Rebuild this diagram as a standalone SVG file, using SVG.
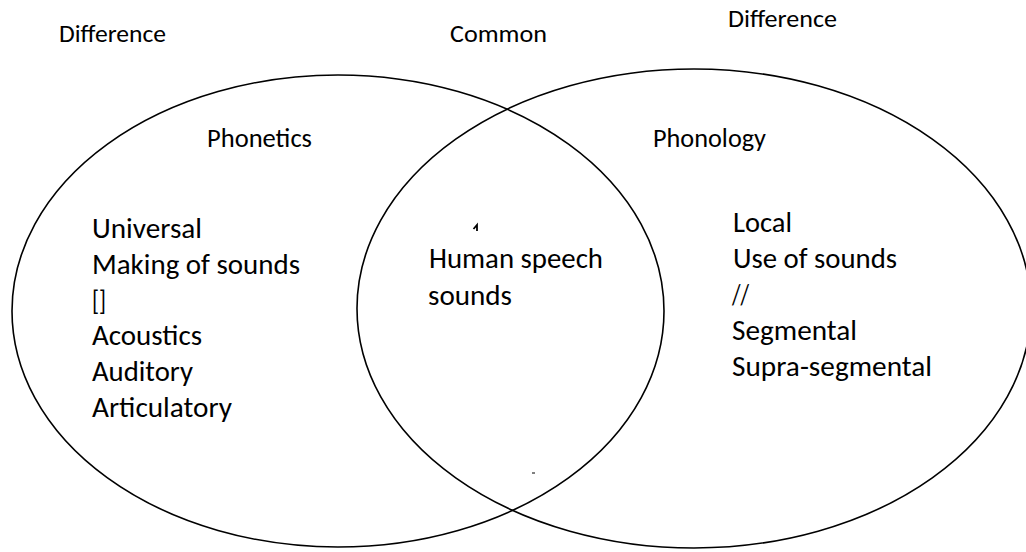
<svg xmlns="http://www.w3.org/2000/svg" width="1026" height="552" viewBox="0 0 1026 552">
  <style>
    .shape { fill: none; stroke: #000; stroke-width: 1.6; }
    text { font-family: Carlito, Lato, "Open Sans", sans-serif; fill: #000; }
    .hdr { font-size: 25px; }
    .title { font-size: 26.5px; }
    .item { font-size: 29px; }
  </style>
  <rect width="1026" height="552" fill="#fff"/>
  <g id="labels">
    <text class="hdr" x="59" y="42" textLength="107" lengthAdjust="spacingAndGlyphs">Difference</text>
    <text class="hdr" x="450" y="42" textLength="97" lengthAdjust="spacingAndGlyphs">Common</text>
    <text class="hdr" x="728" y="27" textLength="109" lengthAdjust="spacingAndGlyphs">Difference</text>
  </g>
  <g id="phonetics">
    <ellipse class="shape" cx="338" cy="311" rx="326" ry="236"/>
    <text class="title" x="207" y="147" textLength="105" lengthAdjust="spacingAndGlyphs">Phonetics</text>
    <text class="item" x="92" y="238" textLength="110" lengthAdjust="spacingAndGlyphs">Universal</text>
    <text class="item" x="92" y="274" textLength="208" lengthAdjust="spacingAndGlyphs">Making of sounds</text>
    <text class="item" x="92" y="310" textLength="14" lengthAdjust="spacingAndGlyphs">[]</text>
    <text class="item" x="92" y="345" textLength="110" lengthAdjust="spacingAndGlyphs">Acoustics</text>
    <text class="item" x="92" y="381" textLength="101" lengthAdjust="spacingAndGlyphs">Auditory</text>
    <text class="item" x="92" y="417" textLength="140" lengthAdjust="spacingAndGlyphs">Articulatory</text>
  </g>
  <g id="phonology">
    <ellipse class="shape" cx="694" cy="308.5" rx="337" ry="239.5"/>
    <text class="title" x="653" y="147" textLength="113" lengthAdjust="spacingAndGlyphs">Phonology</text>
    <text class="item" x="733" y="232" textLength="59" lengthAdjust="spacingAndGlyphs">Local</text>
    <text class="item" x="733" y="268" textLength="164" lengthAdjust="spacingAndGlyphs">Use of sounds</text>
    <text class="item" x="732" y="304" textLength="17" lengthAdjust="spacingAndGlyphs">//</text>
    <text class="item" x="732" y="340" textLength="125" lengthAdjust="spacingAndGlyphs">Segmental</text>
    <text class="item" x="732" y="376" textLength="200" lengthAdjust="spacingAndGlyphs">Supra-segmental</text>
  </g>
  <g id="common">
    <text class="item" x="429" y="268" textLength="174" lengthAdjust="spacingAndGlyphs">Human speech</text>
    <text class="item" x="428" y="305" textLength="84" lengthAdjust="spacingAndGlyphs">sounds</text>
    <path d="M473.5 229 L477 225 L477 231" fill="none" stroke="#000" stroke-width="1.8"/>
    <path d="M532 473 L535 473" fill="none" stroke="#000" stroke-width="1"/>
  </g>
  <g id="connectors"></g>
</svg>
